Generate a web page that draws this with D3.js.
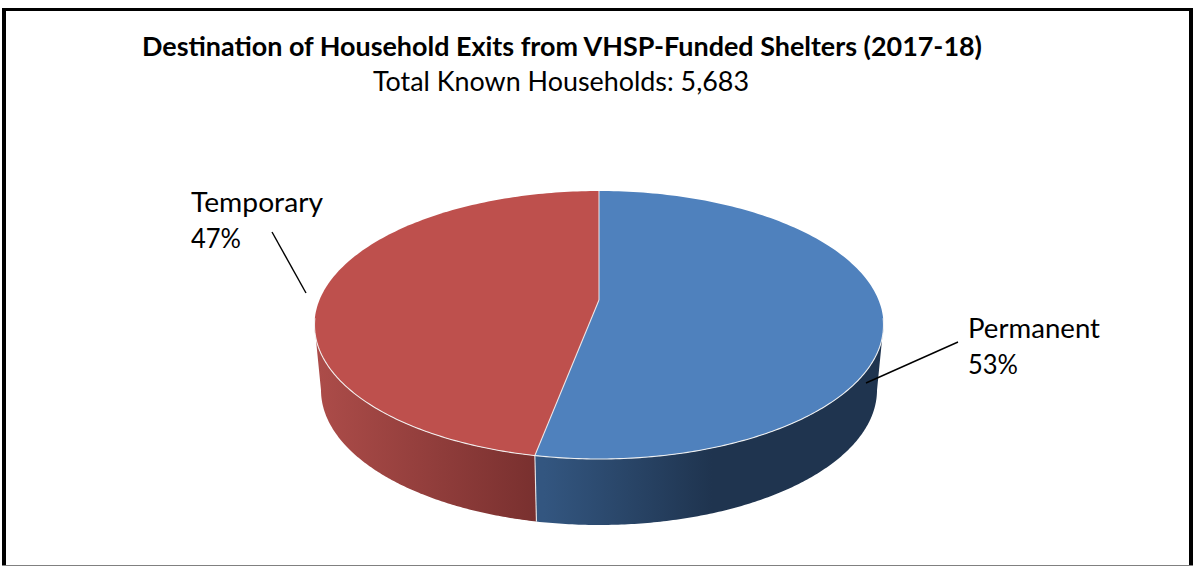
<!DOCTYPE html>
<html>
<head>
<meta charset="utf-8">
<style>
html,body{margin:0;padding:0;background:#fff;}
svg{display:block;}
text{font-family:Lato,"Noto Sans",sans-serif;fill:#000;}
</style>
<script src="https://cdn.jsdelivr.net/npm/d3@7"></script>
</head>
<body>
<svg id="chart" width="1193" height="566"></svg>
<script>
// Household exit destinations, 2017-18
const categories = ["Permanent", "Temporary"];
const shares = [53, 47];
const titleText = "Destination of Household Exits from VHSP-Funded Shelters (2017-18)";
const subtitleText = "Total Known Households: 5,683";

const topColors = ["#4f81bd", "#be504d"];
const wallStops = [
  [["#335680", 0], ["#1f344f", 0.5], ["#1f344f", 1]],
  [["#ac4c49", 0], ["#772f2e", 1]]
];
const wallExtents = [[544, 880], [318, 544]];

const svg = d3.select("#chart");

// Disc seen in perspective: the near edge is stretched, so the pie's
// centre sits above the middle of its outline.
const pieX = 599;
function discProjection(yBack, yCentre, yFront, halfWidth) {
  const c = (2 * yCentre - yBack - yFront) / (yFront - yBack);
  const a = yFront * (1 + c) - yCentre;
  const k = halfWidth * Math.sqrt(1 - c * c);
  return angle => {
    const u = Math.sin(angle), v = -Math.cos(angle), w = 1 + c * v;
    return [pieX + k * u / w, (a * v + yCentre) / w];
  };
}
const topCentre = [pieX, 300];
const topFace = discProjection(191, topCentre[1], 459, 284.5);
const baseFace = discProjection(255, 365, 525, 278);

const slices = d3.pie().sort(null).value(d => d)(shares);
const sweep = (from, to, n = 160) => d3.range(n + 1).map(i => from + (to - from) * i / n);
const outline = d3.line();

// Only the arc between the two silhouette tangents shows a side wall
const wallFrom = Math.PI / 2 + 0.188, wallTo = 3 * Math.PI / 2 - 0.188;

const defs = svg.append("defs");
slices.forEach((s, i) => {
  const g = defs.append("linearGradient")
    .attr("id", "wall" + i)
    .attr("gradientUnits", "userSpaceOnUse")
    .attr("x1", wallExtents[i][0]).attr("x2", wallExtents[i][1])
    .attr("y1", 0).attr("y2", 0);
  wallStops[i].forEach(([color, at]) => g.append("stop").attr("offset", at).attr("stop-color", color));
});

// Side walls
slices.forEach((s, i) => {
  const from = Math.max(s.startAngle, wallFrom), to = Math.min(s.endAngle, wallTo);
  const angles = sweep(from, to);
  const pts = angles.map(topFace).concat(angles.slice().reverse().map(baseFace));
  svg.append("path").attr("d", outline(pts) + "Z").attr("fill", `url(#wall${i})`);
});

// Top faces
slices.forEach((s, i) => {
  const pts = [topCentre].concat(sweep(s.startAngle, s.endAngle).map(topFace));
  svg.append("path").attr("d", outline(pts) + "Z").attr("fill", topColors[i]);
});

// Pale highlights along the seams and the front rim
function highlight(pts, opacity) {
  svg.append("path").attr("d", outline(pts))
    .attr("fill", "none").attr("stroke", "#f4f4f4").attr("stroke-width", 1.1)
    .attr("stroke-opacity", opacity);
}
highlight(sweep(wallFrom - 0.05, wallTo + 0.05, 240).map(topFace), 0.95);
slices.forEach(s => highlight([topCentre, topFace(s.startAngle)], 0.85));
const seam = slices[1].startAngle;
highlight([topFace(seam), baseFace(seam)], 0.9);

// Leader lines
const leaders = [[[958, 342], [866, 383]], [[272, 232], [306, 293]]];
leaders.forEach(l => svg.append("path").attr("d", outline(l))
  .attr("fill", "none").attr("stroke", "#000").attr("stroke-width", 1.4));

// Data labels
const labelSpots = [
  {x: 968, y1: 338, y2: 374, w: 132},
  {x: 191, y1: 212, y2: 248, w: 132}
];
categories.forEach((name, i) => {
  const spot = labelSpots[i];
  svg.append("text").attr("x", spot.x).attr("y", spot.y1)
    .attr("font-size", 26).attr("textLength", spot.w).attr("lengthAdjust", "spacingAndGlyphs")
    .text(name);
  svg.append("text").attr("x", spot.x).attr("y", spot.y2)
    .attr("font-size", 26).attr("textLength", 50).attr("lengthAdjust", "spacingAndGlyphs")
    .text(shares[i] + "%");
});

// Title block
svg.append("text").attr("x", 142).attr("y", 56)
  .attr("font-size", 26).attr("font-weight", 700)
  .attr("textLength", 840).attr("lengthAdjust", "spacingAndGlyphs")
  .text(titleText);
svg.append("text").attr("x", 373).attr("y", 91)
  .attr("font-size", 26)
  .attr("textLength", 376).attr("lengthAdjust", "spacingAndGlyphs")
  .text(subtitleText);

// Frame
const frame = [
  {x: 2, y: 8, w: 1191, h: 3, c: "#000"},
  {x: 2, y: 8, w: 4, h: 558, c: "#000"},
  {x: 1189, y: 8, w: 4, h: 558, c: "#000"},
  {x: 2, y: 565, w: 1191, h: 1, c: "#808080"}
];
svg.selectAll("rect.frame").data(frame).join("rect").attr("class", "frame")
  .attr("x", d => d.x).attr("y", d => d.y).attr("width", d => d.w).attr("height", d => d.h)
  .attr("fill", d => d.c);
</script>
</body>
</html>
